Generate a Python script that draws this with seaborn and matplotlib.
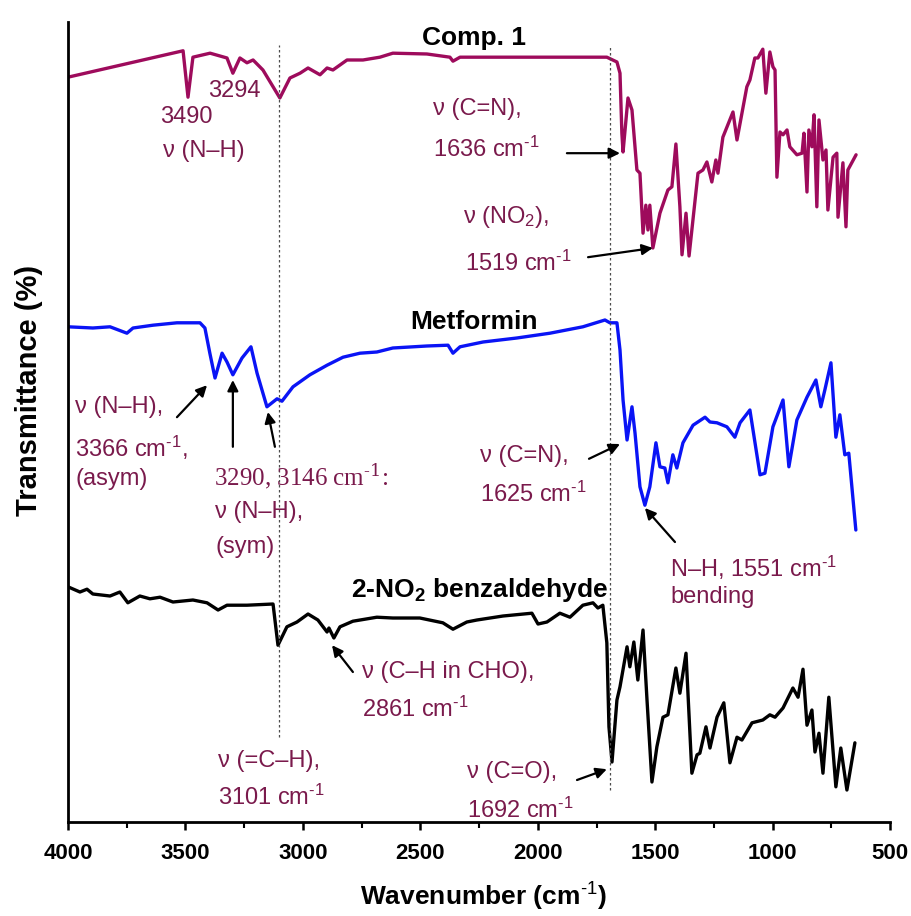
import numpy as np
import pandas as pd
import matplotlib
matplotlib.use("Agg")
import matplotlib.pyplot as plt
import seaborn as sns

# IR spectra (wavenumber in cm-1, stacked transmittance in a.u.)
comp1_wn = [4000, 3510, 3489, 3468, 3395, 3323, 3298, 3268, 3238, 3212, 3170, 3098,
            3055, 3012, 2978, 2927, 2897, 2872, 2812, 2744, 2672, 2617, 2472, 2374,
            2361, 2331, 2118, 1706, 1663, 1650, 1642, 1637, 1616, 1599, 1578, 1565,
            1552, 1540, 1531, 1523, 1510, 1480, 1446, 1429, 1412, 1395, 1386, 1369,
            1356, 1318, 1297, 1280, 1259, 1242, 1233, 1212, 1169, 1152, 1110, 1097,
            1076, 1063, 1042, 1029, 1012, 999, 990, 982, 969, 956, 939, 927, 897,
            875, 867, 854, 846, 833, 824, 812, 803, 786, 773, 765, 743, 727, 722,
            701, 688, 680, 645]
comp1_t = [93.1, 96.4, 90.6, 95.6, 96.1, 95.5, 93.6, 95.5, 94.9, 95.25, 94.0, 90.5,
           93.0, 93.6, 94.25, 93.4, 94.25, 94.0, 95.25, 95.25, 95.6, 96.1, 96.0, 95.6,
           95.1, 95.6, 95.6, 95.6, 95.0, 93.6, 86.1, 83.75, 90.5, 89.0, 81.5, 81.1,
           73.6, 77.1, 74.0, 77.1, 71.75, 76.1, 79.0, 79.4, 84.75, 76.9, 70.9, 76.1,
           70.75, 81.1, 81.5, 82.5, 80.0, 82.75, 81.1, 85.6, 88.75, 85.25, 91.9, 92.75,
           95.5, 95.5, 96.6, 91.1, 96.25, 94.4, 94.0, 80.6, 86.25, 85.9, 86.5, 84.4, 83.4,
           83.6, 86.1, 78.75, 86.5, 84.4, 88.4, 76.9, 87.75, 82.75, 84.0, 76.5, 83.1, 83.6, 75.6,
           82.4, 74.4, 81.5, 83.4]

metformin_wn = [4000, 3894, 3821, 3749, 3723, 3638, 3536, 3438, 3417, 3396, 3374, 3344,
                3323, 3298, 3259, 3221, 3195, 3153, 3110, 3089, 3042, 2970, 2897, 2829,
                2757, 2685, 2617, 2472, 2382, 2361, 2331, 2233, 2089, 1948, 1808, 1714,
                1693, 1663, 1650, 1637, 1620, 1599, 1586, 1565, 1544, 1523, 1497, 1480,
                1459, 1446, 1425, 1408, 1382, 1339, 1288, 1267, 1237, 1195, 1161, 1139,
                1097, 1054, 1033, 999, 956, 931, 897, 854, 816, 795, 778, 752, 731, 714,
                693, 676, 646]
metformin_t = [61.9, 61.75, 61.9, 61.1, 61.75, 62.1, 62.4, 62.4, 61.75, 58.6, 55.5, 58.6,
               57.5, 55.9, 58.0, 59.4, 56.1, 51.9, 52.9, 52.6, 54.4, 55.9, 57.1, 58.1,
               58.6, 58.75, 59.25, 59.5, 59.6, 58.6, 59.4, 60.0, 60.5, 61.1, 61.9, 62.75,
               62.4, 62.4, 59.0, 52.75, 47.75, 51.9, 48.6, 41.9, 39.6, 41.9, 47.4, 44.4,
               44.25, 42.4, 45.9, 44.25, 47.4, 49.6, 50.6, 50.0, 49.9, 49.4, 48.1, 49.9,
               51.5, 43.4, 43.6, 49.4, 52.75, 44.4, 50.25, 53.1, 55.25, 51.9, 54.0, 57.4, 48.1, 50.9,
               45.9, 46.1, 36.5]

benz_wn = [4000, 3949, 3919, 3894, 3821, 3779, 3745, 3694, 3651, 3608, 3553, 3468, 3408,
           3361, 3323, 3238, 3127, 3106, 3068, 3025, 2978, 2936, 2897, 2889, 2868, 2842,
           2787, 2685, 2617, 2502, 2404, 2361, 2302, 2259, 2148, 2025, 1999, 1961, 1906,
           1863, 1808, 1765, 1744, 1723, 1706, 1697, 1684, 1663, 1650, 1620, 1608, 1591,
           1574, 1552, 1535, 1514, 1493, 1467, 1446, 1412, 1395, 1369, 1344, 1322, 1310,
           1284, 1267, 1237, 1208, 1182, 1152, 1131, 1088, 1042, 1012, 990, 956, 914, 892,
           871, 854, 833, 820, 803, 786, 761, 731, 710, 684, 650]
benz_t = [29.4, 28.75, 29.1, 28.5, 28.25, 28.75, 27.4, 28.25, 27.9, 28.1, 27.5, 27.75, 27.4,
          26.5, 27.1, 27.1, 27.25, 22.1, 24.4, 25.0, 26.0, 25.25, 23.75, 24.25, 23.0, 24.4,
          25.1, 25.6, 25.5, 25.5, 24.9, 24.1, 25.0, 25.25, 25.75, 26.1, 24.75, 25.0, 26.1,
          25.6, 27.1, 27.4, 26.75, 27.1, 22.4, 11.9, 7.5, 15.25, 16.9, 21.9, 19.4, 22.5,
          17.75, 24.0, 15.25, 5.0, 9.4, 13.1, 13.4, 19.25, 16.1, 21.1, 6.1, 8.4, 8.6,
          11.9, 9.25, 13.1, 14.9, 7.4, 10.6, 10.25, 12.4, 12.75, 13.4, 13.1, 14.25, 16.75, 15.6,
          19.1, 12.1, 14.0, 8.75, 11.1, 6.1, 15.6, 4.4, 9.25, 4.0, 9.9]

guide_wn = [3101, 1692]

comp1_color = "#9E0B5C"
met_color = "#0A14F5"
benz_color = "black"
note_color = "#7A1A4C"

sns.set_style("ticks")
plt.rcParams["font.family"] = ["Liberation Sans", "DejaVu Sans"]
plt.rcParams["mathtext.fontset"] = "custom"
plt.rcParams["mathtext.rm"] = "Liberation Sans"
plt.rcParams["mathtext.it"] = "Liberation Sans:italic"
plt.rcParams["mathtext.bf"] = "Liberation Sans:bold"
plt.rcParams["text.color"] = "black"
plt.rcParams["axes.labelcolor"] = "black"
plt.rcParams["axes.edgecolor"] = "black"
plt.rcParams["xtick.color"] = "black"

fig = plt.figure(figsize=(9.11, 9.16), dpi=100)
ax = fig.add_axes([0.0746, 0.1026, 0.9025, 0.8734])

sns.lineplot(x=comp1_wn, y=comp1_t, color=comp1_color, lw=2.4, sort=False, ax=ax)
sns.lineplot(x=metformin_wn, y=metformin_t, color=met_color, lw=2.4, sort=False, ax=ax)
sns.lineplot(x=benz_wn, y=benz_t, color=benz_color, lw=2.4, sort=False, ax=ax)

# dotted guide lines
ax.axvline(guide_wn[0], ymin=0.106, ymax=0.971, color="0.3", lw=0.9, ls=(0, (2, 2)))
ax.axvline(guide_wn[1], ymin=0.04, ymax=0.971, color="0.3", lw=0.9, ls=(0, (2, 2)))

ax.set_xlim(4000, 500)
ax.set_ylim(0, 100)
ax.set_xticks(np.arange(4000, 499, -500))
ax.set_xticks(np.arange(3750, 500, -500), minor=True)
ax.set_yticks([])
for s in ["top", "right"]:
    ax.spines[s].set_visible(False)
ax.spines["left"].set_linewidth(2)
ax.spines["bottom"].set_linewidth(2)
ax.tick_params(axis="x", which="major", length=6, width=1.8, labelsize=16, pad=9)
ax.tick_params(axis="x", which="minor", length=4, width=1.5)
for lab in ax.get_xticklabels():
    lab.set_fontweight("bold")

sup = "$^{\\text{-1}}$"
ax.set_xlabel("Wavenumber (cm" + sup + ")", fontsize=19, fontweight="bold")
ax.xaxis.set_label_coords(0.505, -0.073)
ax.set_ylabel("Transmittance (%)", fontsize=21, fontweight="bold")
ax.yaxis.set_label_coords(-0.03, 0.54)

# trace names
ax.text(2272, 97.1, "Comp. 1", fontsize=19, fontweight="bold", ha="center", va="baseline")
ax.text(2272, 61.6, "Metformin", fontsize=19, fontweight="bold", ha="center", va="baseline")
ax.text(2246, 28.1, "2-NO$_{\\mathbf{2}}$ benzaldehyde", fontsize=19, fontweight="bold",
        ha="center", va="baseline")

cm = "cm" + sup
notes = [
    (3608, 87.4, "3490"),
    (3404, 90.6, "3294"),
    (3596, 83.1, "ν (N–H)"),
    (2446, 88.4, "ν (C=N),"),
    (2446, 83.1, "1636 " + cm),
    (2318, 74.9, "ν (NO$_{\\mathregular{2}}$),"),
    (2310, 68.9, "1519 " + cm),
    (3970, 51.1, "ν (N–H),"),
    (3970, 45.6, "3366 " + cm + ","),
    (3970, 42.1, "(asym)"),
    (3374, 38.0, "ν (N–H),"),
    (3374, 33.6, "(sym)"),
    (2246, 45.0, "ν (C=N),"),
    (2246, 40.0, "1625 " + cm),
    (1437, 30.6, "N–H, 1551 " + cm),
    (1437, 27.4, "bending"),
    (2748, 18.0, "ν (C–H in CHO),"),
    (2748, 13.1, "2861 " + cm),
    (3361, 6.9, "ν (=C–H),"),
    (3361, 2.1, "3101 " + cm),
    (2301, 5.5, "ν (C=O),"),
    (2301, 0.5, "1692 " + cm),
]
for x, y, s in notes:
    ax.text(x, y, s, fontsize=17, color=note_color, ha="left", va="baseline")

ax.text(3378, 42.1, "3290, 3146 cm$^{\\text{-1}}$:", fontsize=18, color=note_color,
        ha="left", va="baseline", family="Liberation Serif", math_fontfamily="dejavuserif")

arrow_from = [(1876, 83.6), (1786, 70.6), (3536, 50.6), (3298, 46.9), (3119, 46.9),
              (1782, 45.4), (1416, 35.0), (2787, 18.75), (1833, 5.25)]
arrow_to = [(1650, 83.6), (1510, 71.75), (3408, 54.6), (3298, 55.25), (3149, 51.25),
            (1650, 47.25), (1544, 39.25), (2876, 22.1), (1706, 6.6)]
for a, b in zip(arrow_from, arrow_to):
    ax.annotate("", xy=b, xytext=a,
                arrowprops=dict(arrowstyle="-|>", color="black", lw=1.6,
                                mutation_scale=16, shrinkA=0, shrinkB=0))

fig.savefig("out.png", dpi=100)
